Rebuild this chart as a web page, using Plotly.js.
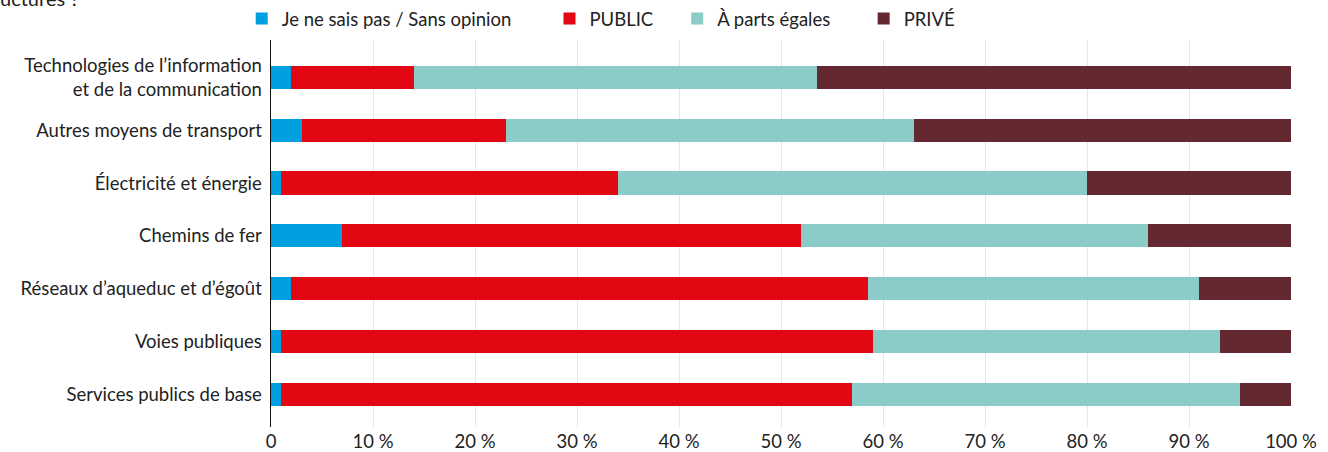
<!DOCTYPE html>
<html>
<head>
<meta charset="utf-8">
<script src="https://cdn.plot.ly/plotly-3.0.1.min.js"></script>
<style>html,body{margin:0;padding:0;background:#fff;}#chart{width:1328px;height:452px;}</style>
</head>
<body>
<div id="chart"></div>
<script>
// Categories listed bottom to top
const categories = [
  "Services publics de base",
  "Voies publiques",
  "Réseaux d’aqueduc et d’égoût",
  "Chemins de fer",
  "Électricité et énergie",
  "Autres moyens de transport",
  "Technologies de l’information<br>et de la communication"
];
const seriesNames = ["Je ne sais pas / Sans opinion", "PUBLIC", "À parts égales", "PRIVÉ"];
const nsp    = [1, 1, 2, 7, 1, 3, 2];
const publicV = [56, 58, 56.5, 45, 33, 20, 12];
const egales = [38, 34, 32.5, 34, 46, 40, 39.5];
const prive  = [5, 7, 9, 14, 20, 37, 46.5];
const tickVals = [0, 10, 20, 30, 40, 50, 60, 70, 80, 90, 100];
const tickText = ["0", "10 %", "20 %", "30 %", "40 %", "50 %", "60 %", "70 %", "80 %", "90 %", "100 %"];
const colors = ["#009fdf", "#e30613", "#8bcbc8", "#632830"];
const values = [nsp, publicV, egales, prive];
const nb = n => "\u00a0".repeat(n);
const pad = [nb(7), nb(4), nb(6), ""];

const traces = values.map((v, i) => ({
  type: "bar",
  orientation: "h",
  name: seriesNames[i] + pad[i],
  x: v,
  y: categories,
  marker: {color: colors[i], line: {width: 0}},
  width: 0.44,
  hoverinfo: "x+name"
}));

const FS = 18.5;
const layout = {
  width: 1328,
  height: 452,
  barmode: "stack",
  paper_bgcolor: "#fff",
  plot_bgcolor: "#fff",
  font: {family: "Lato, 'Noto Sans', sans-serif", size: FS, color: "#222"},
  margin: {l: 271, r: 37, t: 40, b: 25, pad: 0},
  showlegend: true,
  legend: {
    orientation: "h",
    xref: "container", yref: "container",
    x: 0.182, y: 0.958, xanchor: "left", yanchor: "middle",
    font: {size: FS, color: "#222"},
    traceorder: "normal",
    itemclick: false
  },
  xaxis: {
    range: [0, 100],
    tickvals: tickVals,
    ticktext: tickText,
    showgrid: true,
    gridcolor: "#e6e6e6",
    gridwidth: 1,
    zeroline: false,
    showline: false,
    ticks: "",
    tickfont: {size: FS, color: "#222"},
    ticklabelstandoff: 1,
    fixedrange: true
  },
  yaxis: {
    type: "category",
    range: [-0.62, 6.71],
    showgrid: false,
    zeroline: false,
    showline: true,
    linecolor: "#111",
    linewidth: 1.5,
    ticks: "",
    ticklabelstandoff: 4,
    tickfont: {size: FS, color: "#222"},
    fixedrange: true
  },
  annotations: [{
    text: "uctures ?",
    xref: "paper", yref: "paper",
    x: -0.268, y: 1.0, xanchor: "left", yanchor: "bottom",
    yshift: 28,
    showarrow: false,
    font: {size: 20, color: "#222"}
  }]
};

Plotly.newPlot("chart", traces, layout, {displayModeBar: false, staticPlot: true});
</script>
</body>
</html>
